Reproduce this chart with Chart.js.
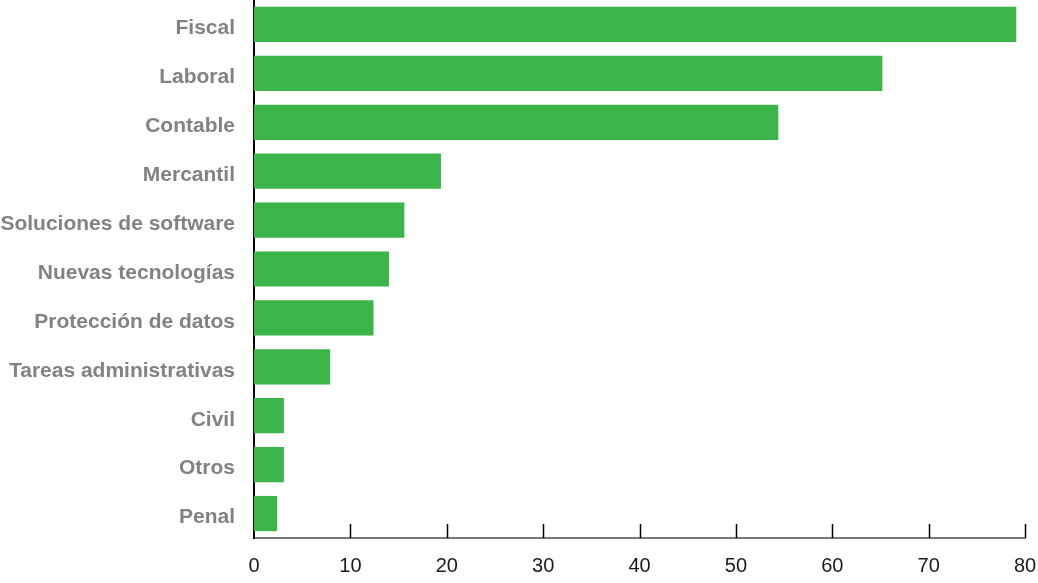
<!DOCTYPE html>
<html>
<head>
<meta charset="utf-8">
<script src="https://cdn.jsdelivr.net/npm/chart.js@4.4.1/dist/chart.umd.min.js"></script>
<style>
  html, body { margin: 0; padding: 0; background: #fff; }
  #wrap { width: 1038px; height: 583px; position: relative; }
</style>
</head>
<body>
<div id="wrap"><canvas id="chart"></canvas></div>
<script>
const categories = ['Fiscal', 'Laboral', 'Contable', 'Mercantil', 'Soluciones de software', 'Nuevas tecnologías', 'Protección de datos', 'Tareas administrativas', 'Civil', 'Otros', 'Penal'];
const values = [79.1, 65.2, 54.4, 19.4, 15.6, 14.0, 12.4, 7.9, 3.1, 3.1, 2.4];
const xTicks = [0, 10, 20, 30, 40, 50, 60, 70, 80];

// tick marks pointing up from the x axis
const upTicks = {
    id: 'upTicks',
    afterDatasetsDraw(chart) {
        const x = chart.scales.x;
        const ctx = chart.ctx;
        const yBase = chart.chartArea.bottom;
        ctx.save();
        ctx.strokeStyle = '#000';
        ctx.lineWidth = 1.5;
        xTicks.forEach(v => {
            if (v === 0) return;
            const px = Math.round(x.getPixelForValue(v)) + 0.5;
            ctx.beginPath();
            ctx.moveTo(px, yBase);
            ctx.lineTo(px, yBase - 14);
            ctx.stroke();
        });
        ctx.restore();
    }
};

new Chart(document.getElementById('chart'), {
    type: 'bar',
    data: {
        labels: categories,
        datasets: [{
            data: values,
            backgroundColor: '#3bb54a',
            borderWidth: 0,
            barPercentage: 0.72,
            categoryPercentage: 1
        }]
    },
    options: {
        indexAxis: 'y',
        responsive: true,
        maintainAspectRatio: false,
        animation: false,
        layout: { padding: { top: 0, right: 13, bottom: 0, left: 0 } },
        plugins: { legend: { display: false }, tooltip: { enabled: false } },
        scales: {
            x: {
                min: 0,
                max: 80,
                afterBuildTicks: s => { s.ticks = xTicks.map(v => ({ value: v })); },
                afterFit: s => { s.height = 45; s.paddingLeft = 0; s.paddingRight = 0; },
                grid: { display: false, drawTicks: false },
                border: { display: true, color: '#777', width: 2 },
                ticks: {
                    padding: 16,
                    color: '#1a1a1a',
                    font: { family: 'Liberation Sans, Arial, sans-serif', size: 20 }
                }
            },
            y: {
                afterFit: s => { s.width = 254; s.paddingTop = 0; s.paddingBottom = 0; },
                grid: { display: false, drawTicks: false },
                border: { display: true, color: '#000', width: 2 },
                ticks: {
                    padding: 19,
                    labelOffset: 4,
                    color: '#808285',
                    font: { family: 'Liberation Sans, Arial, sans-serif', size: 21, weight: 'bold' }
                }
            }
        }
    },
    plugins: [upTicks]
});
</script>
</body>
</html>
